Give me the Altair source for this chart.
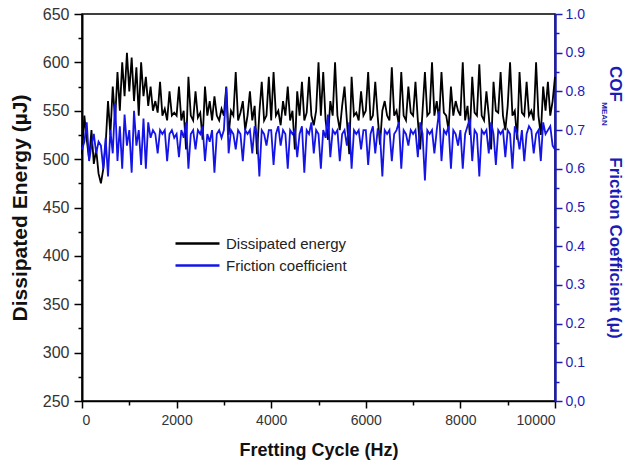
import altair as alt
import pandas as pd

cycles = list(range(0, 10001, 50))

energy = [
    505, 545, 520, 500, 530, 495, 510, 485, 475, 490,
    515, 560, 525, 575, 540, 590, 550, 600, 565, 610,
    570, 605, 560, 595, 545, 600, 565, 585, 555, 575,
    550, 560, 548, 580, 545, 552, 540, 570, 545, 548,
    545, 575, 540, 550, 510, 585, 545, 540, 570, 543,
    548, 520, 575, 545, 560, 540, 565, 545, 540, 552,
    545, 575, 525, 550, 545, 590, 540, 548, 560, 530,
    545, 570, 540, 555, 505, 548, 580, 540, 545, 585,
    540, 590, 545, 550, 535, 560, 545, 575, 540, 550,
    510, 570, 545, 580, 540, 548, 585, 545, 535, 550,
    600, 545, 590, 540, 520, 560, 545, 600, 545, 530,
    555, 575, 540, 505, 585, 545, 548, 540, 570, 545,
    550, 590, 540, 545, 580, 545, 515, 550, 560, 545,
    540, 595, 545, 550, 535, 590, 545, 540, 575, 548,
    545, 580, 540, 510, 550, 590, 545, 548, 600, 545,
    560, 540, 590, 548, 545, 530, 575, 545, 560, 550,
    545, 600, 540, 555, 525, 585, 548, 545, 598, 545,
    540, 570, 545, 510, 580, 550, 548, 590, 545, 530,
    555, 600, 545, 550, 520, 590, 548, 545, 580, 545,
    550, 540, 600, 545, 525, 575, 550, 580, 545, 560,
    585,
]

cof = [
    0.65, 0.67, 0.72, 0.62, 0.66, 0.69, 0.64, 0.67, 0.66, 0.60,
    0.68, 0.58, 0.70, 0.64, 0.77, 0.62, 0.71, 0.60, 0.74, 0.66,
    0.70, 0.59, 0.75, 0.66, 0.70, 0.61, 0.73, 0.60, 0.72, 0.68,
    0.70, 0.69, 0.64, 0.70, 0.69, 0.70, 0.62, 0.69, 0.70, 0.68,
    0.69, 0.63, 0.70, 0.68, 0.72, 0.60, 0.69, 0.70, 0.65, 0.70,
    0.69, 0.71, 0.62, 0.69, 0.67, 0.70, 0.59, 0.69, 0.70, 0.68,
    0.70, 0.81, 0.64, 0.70, 0.69, 0.65, 0.70, 0.69, 0.62, 0.70,
    0.69, 0.70, 0.64, 0.71, 0.69, 0.58, 0.70, 0.69, 0.66, 0.70,
    0.70, 0.61, 0.69, 0.71, 0.66, 0.70, 0.69, 0.60, 0.70, 0.69,
    0.70, 0.63, 0.69, 0.71, 0.59, 0.70, 0.69, 0.72, 0.64, 0.70,
    0.69, 0.60, 0.70, 0.68, 0.74, 0.63, 0.70, 0.69, 0.70, 0.62,
    0.69, 0.70, 0.66, 0.72, 0.60, 0.70, 0.69, 0.70, 0.65, 0.70,
    0.70, 0.61, 0.69, 0.71, 0.64, 0.70, 0.69, 0.58, 0.70, 0.69,
    0.70, 0.62, 0.69, 0.70, 0.72, 0.60, 0.70, 0.69, 0.66, 0.70,
    0.69, 0.70, 0.63, 0.72, 0.69, 0.57, 0.70, 0.69, 0.70, 0.64,
    0.70, 0.75, 0.62, 0.70, 0.69, 0.71, 0.60, 0.70, 0.69, 0.66,
    0.70, 0.60, 0.69, 0.71, 0.73, 0.62, 0.70, 0.69, 0.58, 0.70,
    0.69, 0.70, 0.64, 0.72, 0.69, 0.61, 0.70, 0.69, 0.70, 0.63,
    0.70, 0.69, 0.60, 0.71, 0.69, 0.65, 0.70, 0.62, 0.69, 0.71,
    0.70, 0.64, 0.69, 0.70, 0.62, 0.72, 0.69, 0.70, 0.71, 0.66,
    0.65,
]

series_names = ["Dissipated energy", "Friction coefficient"]
line_colors = ["#000000", "#1414e6"]
axis_blue = "#1c1cb4"
FONT = "Liberation Sans"

x_ticks = list(range(0, 10001, 1000))
e_ticks = list(range(250, 651, 25))
c_ticks = [i / 20 for i in range(21)]

df_e = pd.DataFrame({"cycle": cycles, "value": energy, "series": series_names[0]})
df_c = pd.DataFrame({"cycle": cycles, "value": cof, "series": series_names[1]})

color = alt.Color(
    "series:N",
    scale=alt.Scale(domain=series_names, range=line_colors),
    legend=alt.Legend(
        title=None, orient="none", legendX=114, legendY=217,
        symbolType="M-3,0H1", symbolSize=484, symbolStrokeWidth=2.5,
        labelFont=FONT, labelFontSize=15, labelColor="#222222",
        rowPadding=1, labelOffset=5,
    ),
)

x_enc = alt.X(
    "cycle:Q",
    scale=alt.Scale(domain=[0, 10000], nice=False),
    axis=alt.Axis(
        values=x_ticks, labelOverlap=False,
        labelExpr="datum.value % 2000 == 0 ? format(datum.value, 'd') : ''",
        tickSize={"condition": {"test": "datum.value % 2000 == 0", "value": 7}, "value": 4},
        title="Fretting Cycle (Hz)", titleFontSize=18, titlePadding=14,
        grid=False, domainColor="black", domainWidth=1.5, tickColor="black", tickWidth=1.5,
        labelFontSize=14, labelColor="#333333", labelPadding=5,
    ),
)

line_e = alt.Chart(df_e).mark_line(strokeWidth=1.8).encode(
    x=x_enc,
    y=alt.Y(
        "value:Q",
        scale=alt.Scale(domain=[250, 650], nice=False, zero=False),
        axis=alt.Axis(
            orient="left", values=e_ticks, labelOverlap=False,
            labelExpr="datum.value % 50 == 0 ? format(datum.value, 'd') : ''",
            tickSize={"condition": {"test": "datum.value % 50 == 0", "value": 8}, "value": 4},
            title="Dissipated Energy (µJ)", titleFontSize=21, titlePadding=12,
            grid=False, domainColor="black", domainWidth=2, tickColor="black", tickWidth=1.5,
            labelFontSize=16, labelColor="#333333", labelPadding=5,
        ),
    ),
    color=color,
)

line_c = alt.Chart(df_c).mark_line(strokeWidth=1.8).encode(
    x=x_enc,
    y=alt.Y(
        "value:Q",
        scale=alt.Scale(domain=[0, 1], nice=False, zero=False),
        axis=alt.Axis(
            orient="right", values=c_ticks, labelOverlap=False,
            labelExpr="round(datum.value * 20) % 2 != 0 ? '' : (datum.value == 0 ? '0,0' : format(datum.value, '.1f'))",
            tickSize={"condition": {"test": "round(datum.value * 20) % 2 == 0", "value": 7}, "value": 4},
            title=None,
            grid=False, domainColor=axis_blue, domainWidth=2.5, tickColor=axis_blue, tickWidth=1.5,
            labelFontSize=14, labelColor=axis_blue, labelPadding=3,
        ),
    ),
    color=color,
)

t_cof = alt.Chart(pd.DataFrame({"t": ["COF"]})).mark_text(
    angle=90, fontSize=17, fontWeight="bold", font=FONT, color=axis_blue, align="center", baseline="middle"
).encode(text="t:N", x=alt.value(533), y=alt.value(70))
t_mean = alt.Chart(pd.DataFrame({"t": ["MEAN"]})).mark_text(
    angle=90, fontSize=8, fontWeight="bold", font=FONT, color=axis_blue, align="center", baseline="middle"
).encode(text="t:N", x=alt.value(522), y=alt.value(100))
t_fric = alt.Chart(pd.DataFrame({"t": ["Friction Coefficient (μ)"]})).mark_text(
    angle=90, fontSize=17, fontWeight="bold", font=FONT, color=axis_blue, align="center", baseline="middle"
).encode(text="t:N", x=alt.value(533), y=alt.value(234))

chart = alt.layer(line_e, line_c, t_cof, t_mean, t_fric).resolve_scale(
    y="independent"
).properties(
    width=473, height=387, autosize="none",
    padding={"left": 82, "top": 14, "right": 73, "bottom": 70},
    background="white",
).configure_view(
    stroke="black", strokeWidth=1.5
).configure_axis(
    labelFont=FONT, titleFont=FONT, titleFontWeight="bold", titleColor="#111111"
)

chart.save("out.html", embed_options={"renderer": "svg", "actions": False})
